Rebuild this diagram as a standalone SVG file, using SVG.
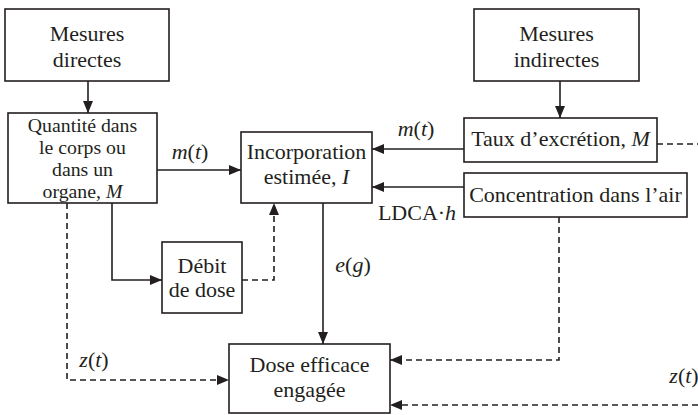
<svg xmlns="http://www.w3.org/2000/svg" width="698" height="415" viewBox="0 0 698 415" font-family="'Liberation Serif', 'DejaVu Serif', serif">
<style>
.box{fill:#fff;stroke:#231f20;stroke-width:1.6}
text{font-family:'Liberation Serif','DejaVu Serif',serif;font-size:22px;fill:#231f20;text-anchor:middle}
.sm{font-size:19.8px}
.it{font-style:italic}
.c{fill:none;stroke:#231f20;stroke-width:1.6}
.d{stroke-dasharray:6 4}
</style>
<defs>
<marker id="ah" markerUnits="userSpaceOnUse" markerWidth="12" markerHeight="12" viewBox="0 0 12 12" refX="12" refY="6" orient="auto">
<path d="M0,1 L12,6 L0,11 Z" fill="#231f20"/>
</marker>
</defs>
<g id="connectors">
<path class="c" d="M88,81 V113" marker-end="url(#ah)"/>
<path class="c" d="M560,81 V118" marker-end="url(#ah)"/>
<path class="c" d="M157,170 H241" marker-end="url(#ah)"/>
<path class="c" d="M464,149 H372" marker-end="url(#ah)"/>
<path class="c" d="M464,187 H372" marker-end="url(#ah)"/>
<path class="c" d="M112,203 V280 H162" marker-end="url(#ah)"/>
<path class="c d" d="M242,280 H274 V203" marker-end="url(#ah)"/>
<path class="c" d="M323,203 V344" marker-end="url(#ah)"/>
<path class="c d" d="M67,203 V380 H229" marker-end="url(#ah)"/>
<path class="c d" d="M559,217 V360 H390" marker-end="url(#ah)"/>
<path class="c d" d="M657,144 H698"/>
<path class="c d" d="M698,405 H390" marker-end="url(#ah)"/>
<text x="190" y="159"><tspan class="it">m</tspan>(<tspan class="it">t</tspan>)</text>
<text x="416" y="136"><tspan class="it">m</tspan>(<tspan class="it">t</tspan>)</text>
<text x="417" y="220">LDCA·<tspan class="it">h</tspan></text>
<text x="353" y="272"><tspan class="it">e</tspan>(<tspan class="it">g</tspan>)</text>
<text x="94" y="367"><tspan class="it">z</tspan>(<tspan class="it">t</tspan>)</text>
<text x="684" y="383"><tspan class="it">z</tspan>(<tspan class="it">t</tspan>)</text>
</g>
<g id="mesures-directes">
<rect class="box" x="5" y="9" width="164" height="72"/>
<text x="87" y="41">Mesures</text>
<text x="87" y="67">directes</text>
</g>
<g id="quantite">
<rect class="box" x="8" y="113" width="149" height="90"/>
<text class="sm" x="82.5" y="132">Quantité dans</text>
<text class="sm" x="82.5" y="154">le corps ou</text>
<text class="sm" x="82.5" y="176">dans un</text>
<text class="sm" x="82.5" y="198">organe, <tspan class="it">M</tspan></text>
</g>
<g id="incorporation">
<rect class="box" x="241" y="132" width="131" height="71"/>
<text x="306.5" y="159">Incorporation</text>
<text x="306.5" y="184">estimée, <tspan class="it">I</tspan></text>
</g>
<g id="mesures-indirectes">
<rect class="box" x="474" y="9" width="165" height="72"/>
<text x="556.5" y="41">Mesures</text>
<text x="556.5" y="67">indirectes</text>
</g>
<g id="taux">
<rect class="box" x="464" y="118" width="193" height="44"/>
<text x="560.5" y="146">Taux d’excrétion, <tspan class="it">M</tspan></text>
</g>
<g id="concentration">
<rect class="box" x="464" y="173" width="223" height="44"/>
<text x="575.5" y="202">Concentration dans l’air</text>
</g>
<g id="debit">
<rect class="box" x="162" y="242" width="80" height="71"/>
<text x="202" y="273">Débit</text>
<text x="202" y="297">de dose</text>
</g>
<g id="dose">
<rect class="box" x="229" y="344" width="161" height="69"/>
<text x="309.5" y="372">Dose efficace</text>
<text x="309.5" y="397">engagée</text>
</g>
</svg>
